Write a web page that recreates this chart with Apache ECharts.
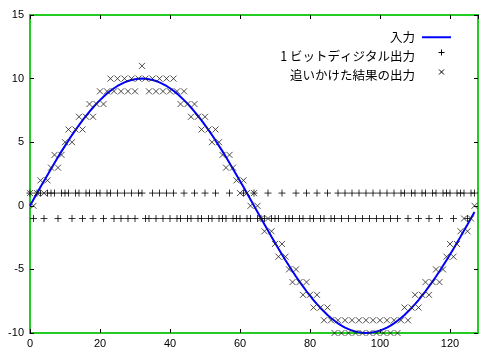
<!DOCTYPE html>
<html>
<head>
<meta charset="utf-8">
<script src="https://cdn.jsdelivr.net/npm/echarts@6/dist/echarts.min.js"></script>
<style>html,body{margin:0;padding:0;background:#fff}#c{width:490px;height:355px}</style>
</head>
<body>
<div id="c"></div>
<script>
// Blue input line (sampled at x = 0..127)
const inputValues = [
 0.00,0.49,0.98,1.47,1.95,2.43,2.90,3.37,3.83,4.28,4.71,5.14,5.56,5.96,6.34,6.72,
 7.07,7.41,7.73,8.03,8.31,8.58,8.82,9.04,9.24,9.42,9.57,9.70,9.81,9.89,9.95,9.99,
 10.00,9.99,9.95,9.89,9.81,9.70,9.57,9.42,9.24,9.04,8.82,8.58,8.31,8.03,7.73,7.41,
 7.07,6.72,6.34,5.96,5.56,5.14,4.71,4.28,3.83,3.37,2.90,2.43,1.95,1.47,0.98,0.49,
 0.00,-0.49,-0.98,-1.47,-1.95,-2.43,-2.90,-3.37,-3.83,-4.28,-4.71,-5.14,-5.56,-5.96,-6.34,-6.72,
 -7.07,-7.41,-7.73,-8.03,-8.31,-8.58,-8.82,-9.04,-9.24,-9.42,-9.57,-9.70,-9.81,-9.89,-9.95,-9.99,
 -10.00,-9.99,-9.95,-9.89,-9.81,-9.70,-9.57,-9.42,-9.24,-9.04,-8.82,-8.58,-8.31,-8.03,-7.73,-7.41,
 -7.07,-6.72,-6.34,-5.96,-5.56,-5.14,-4.71,-4.28,-3.83,-3.37,-2.90,-2.43,-1.95,-1.47,-0.98,-0.49
];
// 1-bit digital output (+ markers)
const bitValues = [
 1,-1,1,1,-1,1,1,1,-1,1,1,1,-1,1,1,-1,
 1,1,-1,1,1,-1,1,1,-1,1,-1,1,-1,1,-1,1,
 1,-1,-1,1,-1,1,-1,1,-1,1,-1,-1,1,-1,-1,1,
 -1,-1,1,-1,-1,1,-1,-1,-1,1,-1,-1,-1,1,-1,-1,
 1,-1,-1,-1,1,-1,-1,-1,1,-1,-1,-1,1,-1,-1,1,
 -1,-1,1,-1,-1,1,-1,-1,1,-1,1,-1,1,-1,1,-1,
 1,-1,1,-1,1,-1,1,-1,1,-1,1,1,-1,1,1,-1,
 1,1,-1,1,1,-1,1,1,1,-1,1,1,1,-1,1,1
];
// Tracking result output (x markers)
const trackValues = [
 1,0,1,2,1,2,3,4,3,4,5,6,5,6,7,6,
 7,8,7,8,9,8,9,10,9,10,9,10,9,10,9,10,
 11,10,9,10,9,10,9,10,9,10,9,8,9,8,7,8,
 7,6,7,6,5,6,5,4,3,4,3,2,1,2,1,0,
 1,0,-1,-2,-1,-2,-3,-4,-3,-4,-5,-6,-5,-6,-7,-6,
 -7,-8,-7,-8,-9,-8,-9,-10,-9,-10,-9,-10,-9,-10,-9,-10,
 -9,-10,-9,-10,-9,-10,-9,-10,-9,-10,-9,-8,-9,-8,-7,-8,
 -7,-6,-7,-6,-5,-6,-5,-4,-3,-4,-3,-2,-1,-2,-1,0
];
const seriesNames = ['入力', '1 ビットディジタル出力', '追いかけた結果の出力'];
const xTicks = [0, 20, 40, 60, 80, 100, 120];
const yTicks = [-10, -5, 0, 5, 10, 15];

const toXY = arr => arr.map((v, i) => [i, v]);
const plusPath = 'path://M0,5L10,5M5,0L5,10';
const crossPath = 'path://M0,0L10,10M10,0L0,10';
const lbl = {fontFamily: 'Liberation Sans, Arial, sans-serif', fontSize: 11, color: '#000'};

// legend layout
const LEG_RIGHT = 34, LEG_TOP = 26, LEG_W = 29, LEG_H = 14, LEG_GAP = 5.5;

const chart = echarts.init(document.getElementById('c'), null, {renderer: 'canvas'});
const legCx = 490 - LEG_RIGHT - LEG_W / 2;
const legCy = i => LEG_TOP + LEG_H / 2 + i * (LEG_H + LEG_GAP);
const s = 3;
const legendMarks = [
  [legCx - s, legCy(1), legCx + s, legCy(1)],
  [legCx, legCy(1) - s, legCx, legCy(1) + s],
  [legCx - 2.5, legCy(2) - 2.5, legCx + 2.5, legCy(2) + 2.5],
  [legCx + 2.5, legCy(2) - 2.5, legCx - 2.5, legCy(2) + 2.5]
].map(l => ({type: 'line', shape: {x1: l[0], y1: l[1], x2: l[2], y2: l[3]},
  style: {stroke: '#000', lineWidth: 1}, silent: true, z: 100}));

chart.setOption({
  animation: false,
  backgroundColor: '#fff',
  grid: {left: 30, right: 12, top: 15, bottom: 22, show: true, borderColor: '#22cc22', borderWidth: 2, backgroundColor: 'transparent'},
  legend: {
    orient: 'vertical', right: LEG_RIGHT, top: LEG_TOP, align: 'right', itemGap: LEG_GAP,
    itemWidth: LEG_W, itemHeight: LEG_H,
    textStyle: {fontFamily: 'Noto Sans CJK JP', fontSize: 12.5, color: '#000', padding: [0, 2, 0, 0]},
    data: [
      {name: seriesNames[0], icon: 'path://M0,0L29,0L29,2L0,2Z', itemStyle: {color: '#0000ff'}},
      {name: seriesNames[1], icon: 'rect', itemStyle: {color: 'rgba(255,255,255,0)', borderWidth: 0}},
      {name: seriesNames[2], icon: 'rect', itemStyle: {color: 'rgba(255,255,255,0)', borderWidth: 0}}
    ]
  },
  graphic: legendMarks,
  xAxis: [
    {type: 'value', min: 0, max: 128, interval: 20, position: 'bottom',
     axisLine: {show: false, onZero: false}, splitLine: {show: false},
     axisTick: {inside: true, length: 4, lineStyle: {color: '#000'}},
     axisLabel: Object.assign({margin: 5, showMaxLabel: false, formatter: v => xTicks.includes(v) ? String(v) : ''}, lbl)},
    {type: 'value', min: 0, max: 128, interval: 20, position: 'top',
     axisLine: {show: false, onZero: false}, splitLine: {show: false},
     axisTick: {inside: true, length: 4, lineStyle: {color: '#000'}},
     axisLabel: {show: false}}
  ],
  yAxis: [
    {type: 'value', min: -10, max: 15, interval: 5, position: 'left',
     axisLine: {show: false, onZero: false}, splitLine: {show: false},
     axisTick: {inside: true, length: 4, lineStyle: {color: '#000'}},
     axisLabel: Object.assign({margin: 6, formatter: v => yTicks.includes(v) ? String(v) : ''}, lbl)},
    {type: 'value', min: -10, max: 15, interval: 5, position: 'right',
     axisLine: {show: false, onZero: false}, splitLine: {show: false},
     axisTick: {inside: true, length: 4, lineStyle: {color: '#000'}},
     axisLabel: {show: false}}
  ],
  series: [
    {name: seriesNames[0], type: 'line', data: toXY(inputValues), showSymbol: false, symbol: 'none',
     lineStyle: {color: '#0000ff', width: 2}, itemStyle: {color: '#0000ff'}, z: 3},
    {name: seriesNames[1], type: 'scatter', data: toXY(bitValues), symbol: plusPath, symbolSize: 7,
     itemStyle: {color: 'none', borderColor: '#000', borderWidth: 1}, z: 4},
    {name: seriesNames[2], type: 'scatter', data: toXY(trackValues), symbol: crossPath, symbolSize: 6,
     itemStyle: {color: 'none', borderColor: '#222', borderWidth: 1}, z: 4}
  ]
});
</script>
</body>
</html>
